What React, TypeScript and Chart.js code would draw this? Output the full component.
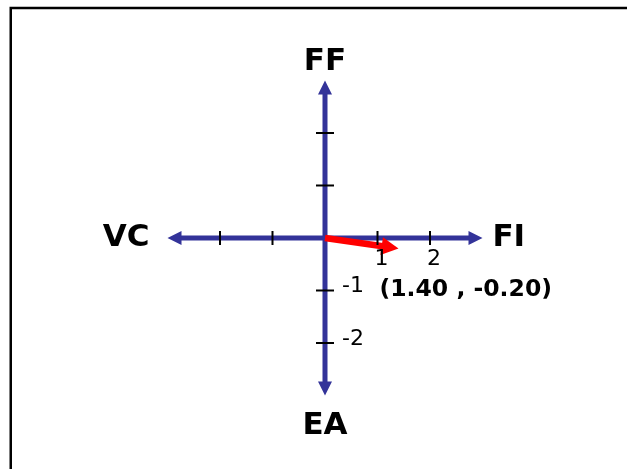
import React, { useEffect, useRef } from 'react';
import { Chart, registerables } from 'chart.js';

Chart.register(...registerables);

// ---- data ----
const AXIS_X_RANGE = [-3, 3]; // VC <-> FI
const AXIS_Y_RANGE = [-3, 3]; // EA <-> FF
const X_TICKS = [-2, -1, 1, 2];
const Y_TICKS = [-2, -1, 1, 2];
const X_TICK_LABELS = [1, 2];
const Y_TICK_LABELS = [-1, -2];
const AXIS_NAMES = ['FF', 'EA', 'VC', 'FI'];
const AXIS_NAME_X = [0, 0, -3.79, 3.5];
const AXIS_NAME_Y = [3.35, -3.58, 0, 0];
const VECTOR_X = 1.4;
const VECTOR_Y = -0.2;
const VECTOR_LABEL = '(1.40 , -0.20)';

// scale windows (1 unit = same pixel size both directions)
const X_MIN = -6.19;
const X_MAX = 5.752;
const Y_MIN = -4.4;
const Y_MAX = 4.533;

const BLUE = '#333399';
const RED = '#ff0000';
const FONT = '"DejaVu Sans", sans-serif';

const arrowPlugin = {
  id: 'arrowPlugin',
  beforeDatasetDraw(chart: any, args: any) {
    const ds = chart.data.datasets[args.index];
    if (!ds.arrow) return;
    const pts = args.meta.data;
    const a = pts[0], b = pts[pts.length - 1];
    const dx = b.x - a.x, dy = b.y - a.y;
    const len = Math.hypot(dx, dy);
    const ux = dx / len, uy = dy / len;
    const nx = -uy, ny = ux;
    const hl = ds.arrow.headLen, hw = ds.arrow.headWidth;
    const ctx = chart.ctx;
    ctx.save();
    ctx.strokeStyle = ds.arrow.color;
    ctx.fillStyle = ds.arrow.color;
    ctx.lineWidth = ds.arrow.width;
    ctx.lineCap = 'butt';
    const sx = a.x + (ds.arrow.both ? ux * (hl - 1) : 0);
    const sy = a.y + (ds.arrow.both ? uy * (hl - 1) : 0);
    const ex = b.x - ux * (hl - 1);
    const ey = b.y - uy * (hl - 1);
    ctx.beginPath();
    ctx.moveTo(sx, sy);
    ctx.lineTo(ex, ey);
    ctx.stroke();
    const head = (tx: number, ty: number, vx: number, vy: number) => {
      const bx = tx - vx * hl, by = ty - vy * hl;
      ctx.beginPath();
      ctx.moveTo(tx, ty);
      ctx.lineTo(bx + nx * hw / 2, by + ny * hw / 2);
      ctx.lineTo(bx - nx * hw / 2, by - ny * hw / 2);
      ctx.closePath();
      ctx.fill();
    };
    head(b.x, b.y, ux, uy);
    if (ds.arrow.both) head(a.x, a.y, -ux, -uy);
    ctx.restore();
  },
};

const decoPlugin = {
  id: 'decoPlugin',
  beforeDraw(chart: any) {
    const ctx = chart.ctx;
    ctx.save();
    ctx.fillStyle = '#ffffff';
    ctx.fillRect(0, 0, chart.width, chart.height);
    ctx.strokeStyle = '#000000';
    ctx.lineWidth = 2.5;
    ctx.beginPath();
    ctx.moveTo(10.75, chart.height + 5);
    ctx.lineTo(10.75, 8);
    ctx.lineTo(chart.width + 5, 8);
    ctx.stroke();
    ctx.restore();
  },
  afterDraw(chart: any) {
    const ctx = chart.ctx;
    const xs = chart.scales.x, ys = chart.scales.y;
    const px = (v: number) => xs.getPixelForValue(v);
    const py = (v: number) => ys.getPixelForValue(v);
    ctx.save();
    ctx.fillStyle = '#000000';
    ctx.textBaseline = 'middle';
    // tick labels
    ctx.font = `22px ${FONT}`;
    ctx.textAlign = 'center';
    X_TICK_LABELS.forEach((v) => ctx.fillText(String(v), px(v) + 4, py(0) + 21));
    ctx.textAlign = 'left';
    Y_TICK_LABELS.forEach((v) => ctx.fillText(String(v), px(0) + 17, py(v) - 4));
    // axis names
    ctx.font = `bold 31px ${FONT}`;
    ctx.textAlign = 'center';
    AXIS_NAMES.forEach((n, i) => ctx.fillText(n, px(AXIS_NAME_X[i]), py(AXIS_NAME_Y[i])));
    // vector label
    ctx.font = `bold 23.5px ${FONT}`;
    ctx.textAlign = 'left';
    ctx.fillText(VECTOR_LABEL, px(1) + 2, py(-1) - 1);
    ctx.restore();
  },
};

export default function App() {
  const ref = useRef<HTMLCanvasElement>(null);
  useEffect(() => {
    if (!ref.current) return;
    const chart = new Chart(ref.current, {
      type: 'scatter',
      data: {
        datasets: [
          {
            data: X_TICKS.map((v) => ({ x: v, y: 0 })),
            pointStyle: 'line',
            rotation: 90,
            radius: 7,
            borderColor: '#000000',
            borderWidth: 2,
            showLine: false,
          } as any,
          {
            data: Y_TICKS.map((v) => ({ x: 0, y: v })),
            pointStyle: 'line',
            rotation: 0,
            radius: 9,
            borderColor: '#000000',
            borderWidth: 2,
            showLine: false,
          } as any,
          {
            data: [{ x: 0, y: 0 }, { x: VECTOR_X, y: VECTOR_Y }],
            pointRadius: 0,
            showLine: false,
            arrow: { color: RED, width: 6.5, headLen: 17, headWidth: 18, both: false },
          } as any,
          {
            data: [{ x: AXIS_X_RANGE[0], y: 0 }, { x: AXIS_X_RANGE[1], y: 0 }],
            pointRadius: 0,
            showLine: false,
            arrow: { color: BLUE, width: 5, headLen: 14, headWidth: 14, both: true },
          } as any,
          {
            data: [{ x: 0, y: AXIS_Y_RANGE[0] }, { x: 0, y: AXIS_Y_RANGE[1] }],
            pointRadius: 0,
            showLine: false,
            arrow: { color: BLUE, width: 5, headLen: 14, headWidth: 14, both: true },
          } as any,
        ],
      },
      options: {
        animation: false,
        responsive: false,
        maintainAspectRatio: false,
        layout: { padding: 0, autoPadding: false },
        events: [],
        plugins: { legend: { display: false }, tooltip: { enabled: false } },
        scales: {
          x: { type: 'linear', min: X_MIN, max: X_MAX, display: false },
          y: { type: 'linear', min: Y_MIN, max: Y_MAX, display: false },
        },
      },
      plugins: [arrowPlugin, decoPlugin],
    });
    return () => chart.destroy();
  }, []);
  return (
    <div style={{ position: 'absolute', left: 0, top: 0, width: 627, height: 469 }}>
      <canvas ref={ref} width={627} height={469} style={{ display: 'block', width: 627, height: 469 }} />
    </div>
  );
}
